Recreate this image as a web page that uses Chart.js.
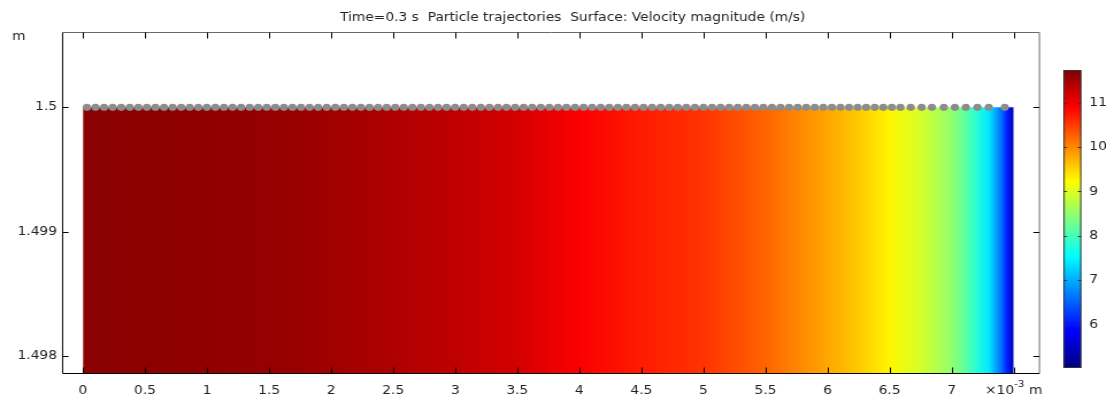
<!DOCTYPE html>
<html lang="en">
<head>
<meta charset="UTF-8" />
<title>Particle trajectories</title>
<script src="https://cdn.jsdelivr.net/npm/chart.js"></script>
<style>
  body { margin: 0; background: #fff; }
  .wrap { position: relative; width: 1106px; height: 399px; }
  #mainChart { position: absolute; left: 0; top: 0; }
  #barChart { position: absolute; left: 1040px; top: 0; }
</style>
</head>
<body>
<div class="wrap">
  <!-- the original picture is stretched sideways, so the canvases are too -->
  <canvas id="mainChart" width="962" height="399" style="width:1106px;height:399px"></canvas>
  <canvas id="barChart" width="57" height="399" style="width:65.5px;height:399px"></canvas>
</div>
<script>
  // axis ticks (x in 1e-3 m, y in m)
  const xTicks = [0, 0.5, 1, 1.5, 2, 2.5, 3, 3.5, 4, 4.5, 5, 5.5, 6, 6.5, 7, 7.5];
  const xTickLabels = ['0', '0.5', '1', '1.5', '2', '2.5', '3', '3.5', '4', '4.5', '5', '5.5', '6', '6.5', '7', ''];
  const yTicks = [1.498, 1.499, 1.5];
  const yTickLabels = ['1.498', '1.499', '1.5'];

  // velocity magnitude (m/s) along the channel
  const fieldX = [0, 0.5, 1, 1.5, 2, 2.5, 3, 3.5, 4, 4.5, 5, 5.5, 6, 6.25, 6.5, 6.75, 7, 7.1, 7.2, 7.3, 7.4, 7.45, 7.5];
  const fieldV = [11.66, 11.65, 11.62, 11.59, 11.52, 11.42, 11.32, 11.18, 10.92, 10.72, 10.56, 10.24, 9.8, 9.57, 9.28, 8.95, 8.5, 8.2, 7.8, 7.4, 6.6, 6.05, 5.36];
  const surfaceTop = 1.5;

  // particle positions on the top boundary
  const particleX = [
    0.032, 0.101, 0.170, 0.239, 0.308, 0.377, 0.446, 0.515, 0.584, 0.653,
    0.722, 0.791, 0.860, 0.929, 0.998, 1.067, 1.136, 1.205, 1.274, 1.343,
    1.412, 1.481, 1.550, 1.619, 1.688, 1.757, 1.826, 1.895, 1.964, 2.033,
    2.102, 2.171, 2.240, 2.309, 2.378, 2.447, 2.516, 2.585, 2.654, 2.723,
    2.792, 2.861, 2.930, 2.999, 3.068, 3.137, 3.206, 3.275, 3.344, 3.413,
    3.482, 3.551, 3.620, 3.689, 3.758, 3.827, 3.896, 3.965, 4.034, 4.103,
    4.172, 4.241, 4.310, 4.379, 4.448, 4.517, 4.586, 4.655, 4.724, 4.793,
    4.862, 4.931, 5.000, 5.069, 5.138, 5.207, 5.276, 5.345, 5.414, 5.483,
    5.552, 5.621, 5.690, 5.759, 5.828, 5.897, 5.966, 6.035, 6.104, 6.173,
    6.242, 6.311, 6.380, 6.449, 6.518, 6.587,
    6.670, 6.758, 6.841, 6.937, 7.026, 7.114, 7.208, 7.299, 7.428
  ];

  // colour legend
  const colorTicks = [6, 7, 8, 9, 10, 11];
  const colorMin = 5.026;
  const colorMax = 11.735;

  // horizontal stretch of the canvases (css width / canvas width)
  const SX = 1106 / 962;

  Chart.defaults.font.family = '"DejaVu Sans", sans-serif';
  Chart.defaults.font.size = 12;
  Chart.defaults.color = '#222';

  function jet(t) {
    t = Math.min(1, Math.max(0, t));
    const clamp = v => Math.min(1, Math.max(0, v));
    const r = clamp(Math.min(4 * t - 1.5, -4 * t + 4.5));
    const g = clamp(Math.min(4 * t - 0.5, -4 * t + 3.5));
    const b = clamp(Math.min(4 * t + 0.5, -4 * t + 2.5));
    return `rgb(${Math.round(r * 255)},${Math.round(g * 255)},${Math.round(b * 255)})`;
  }

  function fieldFill(context) {
    const chart = context.chart;
    if (!chart.chartArea) return null;
    const xs = chart.scales.x;
    const x0 = xs.getPixelForValue(fieldX[0]);
    const x1 = xs.getPixelForValue(fieldX[fieldX.length - 1]);
    const grad = chart.ctx.createLinearGradient(x0, 0, x1, 0);
    fieldX.forEach((x, i) => {
      const off = (xs.getPixelForValue(x) - x0) / (x1 - x0);
      grad.addColorStop(off, jet((fieldV[i] - colorMin) / (colorMax - colorMin)));
    });
    return grad;
  }

  function barFill(context) {
    const chart = context.chart;
    if (!chart.chartArea) return null;
    const ys = chart.scales.y;
    const y0 = ys.getPixelForValue(colorMin);
    const y1 = ys.getPixelForValue(colorMax);
    const grad = chart.ctx.createLinearGradient(0, y0, 0, y1);
    [0, 0.125, 0.375, 0.625, 0.875, 1].forEach(t => grad.addColorStop(t, jet(t)));
    return grad;
  }

  // box round the plot with ticks pointing inward, plus the loose texts
  const framePlugin = {
    id: 'frame',
    afterDraw(chart) {
      const { ctx, chartArea: a, scales } = chart;
      const L = a.left + 0.5, R = a.right - 0.5, T = a.top + 0.5, B = a.bottom - 0.5;
      const tick = 6;
      ctx.save();
      ctx.lineWidth = 1;
      ctx.strokeStyle = '#6a6a6a';
      ctx.beginPath();
      ctx.moveTo(L, T); ctx.lineTo(R, T);
      ctx.moveTo(R, T); ctx.lineTo(R, B);
      ctx.stroke();
      ctx.strokeStyle = '#000';
      ctx.beginPath();
      ctx.moveTo(L, T); ctx.lineTo(L, B);
      ctx.moveTo(L, B); ctx.lineTo(R, B);
      xTicks.forEach(v => {
        const px = Math.round(scales.x.getPixelForValue(v)) + 0.5;
        ctx.moveTo(px, B); ctx.lineTo(px, B - tick);
        ctx.moveTo(px, T); ctx.lineTo(px, T + tick);
      });
      yTicks.forEach(v => {
        const py = Math.round(scales.y.getPixelForValue(v)) + 0.5;
        ctx.moveTo(L, py); ctx.lineTo(L + tick / SX, py);
        ctx.moveTo(R, py); ctx.lineTo(R - tick / SX, py);
      });
      ctx.stroke();

      ctx.fillStyle = '#222';
      ctx.font = '12px "DejaVu Sans"';
      ctx.textBaseline = 'alphabetic';
      ctx.textAlign = 'left';
      ctx.fillText('Time=0.3 s  Particle trajectories  Surface: Velocity magnitude (m/s)', 340 / SX, 21);
      ctx.fillText('m', 12 / SX, 40);
      let x = 985 / SX;
      ctx.fillText('\u00d710', x, 394);
      x += ctx.measureText('\u00d710').width;
      ctx.font = '9px "DejaVu Sans"';
      ctx.fillText('-3', x, 387);
      x += ctx.measureText('-3 ').width + 1;
      ctx.font = '12px "DejaVu Sans"';
      ctx.fillText('m', x, 394);
      ctx.restore();
    }
  };

  const barFrame = {
    id: 'barFrame',
    afterDraw(chart) {
      const { ctx, chartArea: a, scales } = chart;
      ctx.save();
      ctx.strokeStyle = '#333';
      ctx.lineWidth = 1;
      ctx.strokeRect(a.left + 0.5, a.top + 0.5, a.right - a.left - 1, a.bottom - a.top - 1);
      ctx.beginPath();
      colorTicks.forEach(v => {
        const py = Math.round(scales.y.getPixelForValue(v)) + 0.5;
        ctx.moveTo(a.left, py); ctx.lineTo(a.left + 3, py);
        ctx.moveTo(a.right, py); ctx.lineTo(a.right - 3, py);
      });
      ctx.stroke();
      ctx.restore();
    }
  };

  new Chart(document.getElementById('mainChart'), {
    type: 'line',
    data: {
      datasets: [
        {
          type: 'scatter',
          data: particleX.map(x => ({ x: x, y: surfaceTop })),
          pointRadius: 3.6,
          pointBackgroundColor: '#8c8c8c',
          pointBorderWidth: 0,
          order: 0
        },
        {
          data: fieldX.map(x => ({ x: x, y: surfaceTop })),
          backgroundColor: fieldFill,
          fill: 'start',
          borderWidth: 0,
          pointRadius: 0,
          order: 1
        }
      ]
    },
    options: {
      responsive: false,
      animation: false,
      layout: { padding: { top: 32, right: 66 / SX, left: 0, bottom: 0 } },
      plugins: { legend: { display: false }, tooltip: { enabled: false } },
      scales: {
        x: {
          type: 'linear',
          min: -0.169,
          max: 7.712,
          afterFit(s) { s.height = 25; },
          afterBuildTicks(s) { s.ticks = xTicks.map(v => ({ value: v })); },
          grid: { display: false, drawTicks: false },
          border: { display: false },
          ticks: { autoSkip: false, maxRotation: 0, padding: 10, callback: (v, i) => xTickLabels[i] }
        },
        y: {
          type: 'linear',
          min: 1.497855,
          max: 1.500606,
          afterFit(s) { s.width = 62 / SX; },
          afterBuildTicks(s) { s.ticks = yTicks.map(v => ({ value: v })); },
          grid: { display: false, drawTicks: false },
          border: { display: false },
          ticks: { autoSkip: false, padding: 5 / SX, callback: (v, i) => yTickLabels[i] }
        }
      }
    },
    plugins: [framePlugin]
  });

  new Chart(document.getElementById('barChart'), {
    type: 'bar',
    data: {
      labels: [''],
      datasets: [{
        data: [[colorMin, colorMax]],
        backgroundColor: barFill,
        borderWidth: 0,
        barPercentage: 1,
        categoryPercentage: 1
      }]
    },
    options: {
      responsive: false,
      animation: false,
      layout: { padding: { left: 23.3 / SX, top: 70, bottom: 31, right: 0 } },
      plugins: { legend: { display: false }, tooltip: { enabled: false } },
      scales: {
        x: { display: false },
        y: {
          position: 'right',
          min: colorMin,
          max: colorMax,
          afterFit(s) { s.width = 57 - 41 / SX; },
          afterBuildTicks(s) { s.ticks = colorTicks.map(v => ({ value: v })); },
          grid: { display: false, drawTicks: false },
          border: { display: false },
          ticks: { padding: 8 / SX }
        }
      }
    },
    plugins: [barFrame]
  });
</script>
</body>
</html>
